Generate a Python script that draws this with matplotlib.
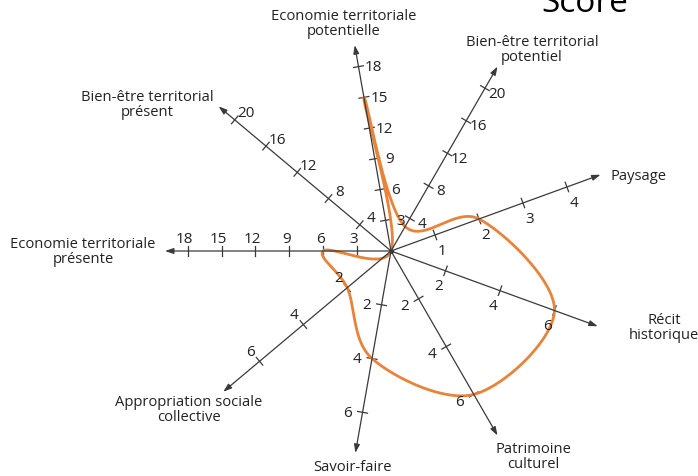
import numpy as np
import matplotlib.pyplot as plt

plt.rcParams['font.family'] = ['Open Sans', 'DejaVu Sans']

# axes of the radar, clockwise from the top
axes_labels = ["Economie territoriale\npotentielle", "Bien-être territorial\npotentiel",
               "Paysage", "Récit\nhistorique", "Patrimoine\nculturel", "Savoir-faire",
               "Appropriation sociale\ncollective", "Economie territoriale\nprésente",
               "Bien-être territorial\nprésent"]
axes_ticks = [[3, 6, 9, 12, 15, 18], [4, 8, 12, 16, 20], [1, 2, 3, 4], [2, 4, 6], [2, 4, 6],
              [2, 4, 6], [2, 4, 6], [3, 6, 9, 12, 15, 18], [4, 8, 12, 16, 20]]
scores = [15, 3, 2, 6, 6, 4, 2, 6, 0]

# layout (pixels)
cx, cy = 391, 225
angles = [100, 60, 20, -20, -60, -100, -140, 180, 140]
px_per_unit = [10.4, 9.4, 46.8, 29.0, 27.6, 27.3, 28.6, 11.3, 10.2]
axis_len = [209, 213, 223, 220, 213, 205, 219, 226, 225]
tick_lab_off = [(15, 0), (12, -5), (7, -16), (-7, -15), (-14, -7), (-15, 0), (-9, 10), (-3, 12), (11, 7)]
label_pos = [(344, 453), (532, 427), (638, 301), (664, 149), (533, 20), (353, 9),
             (189, 67), (83, 225), (147, 372)]

fig = plt.figure(figsize=(6.98, 4.77), dpi=100)
ax = fig.add_axes([0, 0, 1, 1])
ax.set_xlim(0, 698)
ax.set_ylim(0, 477)
ax.axis('off')

axis_col = '#3a3a3a'
for i, ang in enumerate(angles):
    t = np.radians(ang)
    d = np.array([np.cos(t), np.sin(t)])
    n = np.array([-d[1], d[0]])
    end = np.array([cx, cy]) + d * axis_len[i]
    ax.annotate('', xy=end, xytext=(cx, cy),
                arrowprops=dict(arrowstyle='-|>,head_length=0.5,head_width=0.17',
                                lw=0.9, color=axis_col, shrinkA=0, shrinkB=0))
    for v in axes_ticks[i]:
        p = np.array([cx, cy]) + d * v * px_per_unit[i]
        a, b = p - n * 5, p + n * 5
        ax.plot([a[0], b[0]], [a[1], b[1]], color=axis_col, lw=0.9)
        ox, oy = tick_lab_off[i]
        ax.text(p[0] + ox, p[1] + oy, str(v), fontsize=11, ha='center', va='center',
                color='#222222')
    ax.text(label_pos[i][0], label_pos[i][1], axes_labels[i], fontsize=10.6,
            ha='center', va='center', linespacing=1.0, color='#222222')

ax.plot(cx, cy, 'o', color='black', ms=2.5)

# score points on each axis
pts = []
for i, ang in enumerate(angles):
    t = np.radians(ang)
    r = scores[i] * px_per_unit[i]
    pts.append([cx + r * np.cos(t), cy + r * np.sin(t)])
pts = np.array(pts)


def catmull_rom_closed(P, n=60, alpha=0.5):
    out = []
    m = len(P)
    for k in range(m):
        p0, p1, p2, p3 = P[(k - 1) % m], P[k], P[(k + 1) % m], P[(k + 2) % m]
        t0 = 0.0
        t1 = t0 + max(np.linalg.norm(p1 - p0), 1e-3) ** alpha
        t2 = t1 + max(np.linalg.norm(p2 - p1), 1e-3) ** alpha
        t3 = t2 + max(np.linalg.norm(p3 - p2), 1e-3) ** alpha
        ts = np.linspace(t1, t2, n, endpoint=False)[:, None]
        a1 = (t1 - ts) / (t1 - t0) * p0 + (ts - t0) / (t1 - t0) * p1
        a2 = (t2 - ts) / (t2 - t1) * p1 + (ts - t1) / (t2 - t1) * p2
        a3 = (t3 - ts) / (t3 - t2) * p2 + (ts - t2) / (t3 - t2) * p3
        b1 = (t2 - ts) / (t2 - t0) * a1 + (ts - t0) / (t2 - t0) * a2
        b2 = (t3 - ts) / (t3 - t1) * a2 + (ts - t1) / (t3 - t1) * a3
        c = (t2 - ts) / (t2 - t1) * b1 + (ts - t1) / (t2 - t1) * b2
        out.append(c)
    out = np.vstack(out)
    return np.vstack([out, out[:1]])


curve = catmull_rom_closed(pts, alpha=0.15)
ax.plot(curve[:, 0], curve[:, 1], color='#e8833a', lw=2.0, solid_capstyle='round')

# title, cut by the top edge as in the original
ax.text(585, 465, "Score", fontsize=24, ha='center', va='baseline', color='black')

fig.savefig('out.png', dpi=100)
